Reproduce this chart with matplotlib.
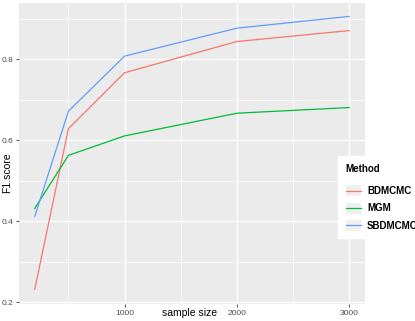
import matplotlib.pyplot as plt
from matplotlib.legend_handler import HandlerBase
from matplotlib.lines import Line2D
from matplotlib.patches import Rectangle

plt.rcParams['font.family'] = ['Liberation Sans', 'DejaVu Sans']

# data
sample_size = [200, 500, 1000, 2000, 3000]
methods = ['BDMCMC', 'MGM', 'SBDMCMC']
f1_bdmcmc = [0.232, 0.629, 0.767, 0.844, 0.871]
f1_mgm = [0.432, 0.563, 0.611, 0.667, 0.681]
f1_sbdmcmc = [0.412, 0.672, 0.808, 0.877, 0.906]
colors = ['#F8766D', '#00BA38', '#619CFF']


class KeyHandler(HandlerBase):
	'''
	ggplot-like legend key: grey square with a line through it
	'''
	def create_artists(self, legend, orig_handle, xdescent, ydescent,
			width, height, fontsize, trans):
		pad = 1.5
		bg = Rectangle((-xdescent, -ydescent - pad), width, height + 2*pad,
			facecolor='#F0F0F0', edgecolor='none', transform=trans)
		ln = Line2D([-xdescent, width - xdescent], [height/2 - ydescent]*2,
			color=orig_handle.get_color(), lw=0.9, transform=trans)
		return [bg, ln]


fig = plt.figure(figsize=(4.15, 3.21), dpi=100)
ax = fig.add_axes([19/415, 17/321, (365-19)/415, (303-3)/321 + 0.003])
ax.set_facecolor('#EBEBEB')

for ys, c in zip([f1_bdmcmc, f1_mgm, f1_sbdmcmc], colors):
	ax.plot(sample_size, ys, color=c, lw=0.9, zorder=3)

ax.set_xlim(60, 3140)
ax.set_ylim(0.196, 0.939)
ax.set_xticks([1000, 2000, 3000])
ax.set_xticks([500, 1500, 2500], minor=True)
ax.set_yticks([0.2, 0.4, 0.6, 0.8])
ax.set_yticks([0.3, 0.5, 0.7, 0.9], minor=True)
ax.set_yticklabels(['0.2', '0.4', '0.6', '0.8'])
ax.grid(which='major', color='white', lw=1.0)
ax.grid(which='minor', color='white', lw=0.5)
ax.set_axisbelow(True)
for s in ax.spines.values():
	s.set_visible(False)
ax.tick_params(which='major', length=2.5, width=0.6, color='#333333',
	labelsize=6, labelcolor='#4D4D4D', pad=1.5)
ax.tick_params(which='minor', length=0)

# axis titles placed by hand, the layout is tight
fig.text(190/415, 1 - 313/321, 'sample size', fontsize=7.5, ha='center', va='center')
fig.text(7/415, 1 - 173/321, 'F1.score', fontsize=7.5, ha='center', va='center',
	rotation=90)

handles = [Line2D([], [], color=c, lw=0.9) for c in colors]
leg = ax.legend(handles, methods, title='Method', loc='upper left',
	bbox_to_anchor=(333/415, 1 - 151/321), bbox_transform=fig.transFigure,
	frameon=True, fancybox=False, framealpha=1, edgecolor='white',
	prop={'size': 7, 'weight': 'bold'}, handlelength=1.6, handletextpad=0.6,
	labelspacing=0.75, borderpad=0.8,
	handler_map={Line2D: KeyHandler()})
leg.get_title().set_fontsize(7)
leg.get_title().set_fontweight('bold')
leg._legend_box.align = 'left'
leg._legend_box.sep = 9

fig.savefig('out.png', dpi=100)
